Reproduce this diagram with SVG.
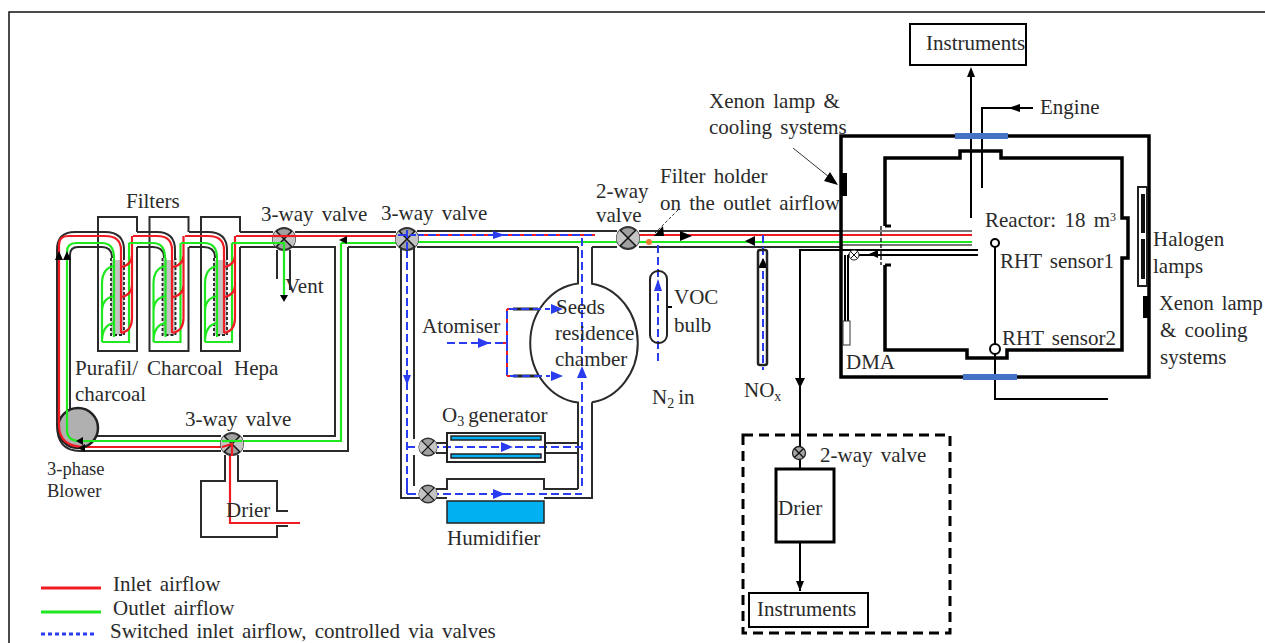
<svg xmlns="http://www.w3.org/2000/svg" xmlns:xlink="http://www.w3.org/1999/xlink" width="1265" height="643" viewBox="0 0 1265 643">
<style>
text{font-family:"Liberation Serif","Times New Roman",serif;font-size:21px;word-spacing:3px;fill:#2a2a2a}
.sm{font-size:18.5px}
.p{fill:none;stroke:#2b2b2b;stroke-width:2}
.t{fill:none;stroke:#000;stroke-width:3.5}
.m{fill:none;stroke:#000;stroke-width:2}
.r{fill:none;stroke:#f01c24;stroke-width:2.2}
.g{fill:none;stroke:#1fe81f;stroke-width:2.2}
.b{fill:none;stroke:#2a3cf0;stroke-width:2;stroke-dasharray:8 4}
.bk{fill:none;stroke:#222;stroke-width:1.8;stroke-dasharray:3 2}
.lb{fill:#4472c4}
.cy{fill:#00b0f0;stroke:#222;stroke-width:1.5}
.ah{fill:#000}
.ab{fill:#2a3cf0}
</style>
<defs>
<g id="valve"><circle r="11" fill="#a0a0a0" stroke="#333" stroke-width="2"/><path d="M-8,-8L0,0L-8,8A11,11 0 0 1 -8,-8ZM8,-8L0,0L8,8A11,11 0 0 0 8,-8Z" fill="#c4c4c4"/><path d="M-8,-8L8,8M8,-8L-8,8" stroke="#111" stroke-width="1.5"/></g>
<g id="filter">
<rect x="111" y="260" width="13" height="75" fill="#c4c4c4"/>
<path class="p" d="M137,232V217H98V351H137V247"/>
<path class="bk" d="M111,258V335H124V258"/>
<path class="g" d="M102,342H129V243M114,258V337M102,342V284Q102,268 114,266M102,312Q102,298 114,296M102,342Q102,325 114,323"/>
<path class="r" d="M132,236V318Q132,331 121,333M132,255Q132,265 121,267M132,285Q132,295 121,297"/>
</g>
</defs>
<rect width="1265" height="643" fill="#fff"/>
<path id="frame" d="M9,643V12H1265" fill="none" stroke="#111" stroke-width="1.5"/>
<g id="connectors">
<use xlink:href="#filter"/><use xlink:href="#filter" x="51.5"/><use xlink:href="#filter" x="103"/>
<path class="p" d="M57,425V250Q57,232 75,232H105Q124,232 124,250V260M137,232H157Q175,232 175,250V260M189,232H208Q227,232 227,250V260M240,232H273M295,232H396M70,415V255Q70,247 78,247H102Q112,247 112,258M137,247H153Q164,247 164,258M189,247H204Q215,247 215,258M240,247H335V436H243M348,247H396M348,247V451H243M221,436H97M221,451H80Q57,451 57,425"/>
<path class="r" d="M59,425V245Q59,236 68,236H105Q121,236 121,250V333M133,236H157Q172,236 172,250V333M185,236H208Q224,236 224,250V333M236,236H396"/>
<path class="g" d="M67,430V252Q67,243 76,243H102Q114,243 114,258M129,243H153Q165,243 165,258M181,243H204Q217,243 217,258M232,243H284V298M341,243V441H80Q67,441 67,430M341,243H396"/>
<path class="r" d="M59,425Q59,447 85,447H222M230,455V523H300"/>
<path class="p" d="M277,250V279M290,250V290M225,455V481H201V537H277V526H288M238,455V481H277V511H288"/>
<path class="p" d="M417,231H617M417,247H578M592,247H617M639,231H840M639,247H840M401,247V498H420M414,247V439M414,455V486M436,443H447M436,453H447M436,498H447M436,489H447V479H544V489H578M544,498H592V402.3M578,247V283.4A54,60 0 0 0 578,402.6V489M592,247V283.7A54,60 0 0 1 592,402.3M545,443H578M545,453H578"/>
<path class="r" d="M417,235H595M639,235H972"/>
<path class="g" d="M417,242H617M639,242H972"/>
<path class="p" style="stroke:#777" d="M840,231H972M840,245H972"/>
<path class="b" d="M416,235H595M407,250V490M582,238V490M407,447H585M407,494H582"/>
<path class="r" style="stroke-width:2;stroke-dasharray:none" d="M507,309V376M507,309H538M507,376H538M507,343H495"/>
<path d="M513,309H538M513,376H538" stroke="#222" stroke-width="3" fill="none"/>
<path class="b" d="M658,245V365M763,235V370M447,343H506M507,343V309H550M507,343V376H550"/>
<path d="M678,210L655,233" fill="none" stroke="#333" stroke-width="1" stroke-dasharray="3 2"/>
<path class="m" d="M667,307H672"/>
<path class="m" d="M971,218V70M982,188V108H1033M978,250H800V447M978,255H848M845,255V321M848,255V321M995,247V344M995,354V399H1108M800,459V469M800,542V591"/>
<path d="M793,148L834,181" fill="none" stroke="#333" stroke-width="1"/>
<path class="ah" d="M59,251L55,260H63ZM67,251L63,260H71Z"/>
<path class="ah" d="M284,302L280,295H288Z"/>
<path class="ah" d="M339,240L347,236V244Z"/>
<path class="ab" d="M505,235L493,231V239ZM407,385L403,375H411ZM513,447L501,442V452ZM505,494L493,489V499ZM582,366L577,378H587ZM658,279L654,291H662ZM490,343L478,338V348ZM563,309L551,304V314ZM563,376L551,371V381Z"/>
<path class="ah" d="M692,236L680,231V241ZM745,241L755,236V246ZM663,226L654,236H664ZM763,258L758,268H768ZM800,388L795,378H805ZM800,591L796,581H804ZM971,67L967,77H975ZM1008,108L1020,104V112ZM869,254L878,250V258ZM838,185L830,172L824,181Z"/>
</g>
<g id="valves">
<use xlink:href="#valve" x="284" y="239"/>
<use xlink:href="#valve" x="232" y="444"/>
<use xlink:href="#valve" x="407" y="239"/>
<use xlink:href="#valve" x="628" y="238"/>
<use xlink:href="#valve" transform="translate(428,447) scale(.8)"/>
<use xlink:href="#valve" transform="translate(428,494) scale(.8)"/>
<g transform="translate(854,255) scale(.5)"><circle r="10" fill="#fff" stroke="#222" stroke-width="2"/><path d="M-7,-7L7,7M7,-7L-7,7" stroke="#111" stroke-width="2"/></g>
<g transform="translate(799,453) scale(.65)"><circle r="10" fill="#a5a5a5" stroke="#222" stroke-width="2"/><path d="M-7,-7L7,7M7,-7L-7,7" stroke="#111" stroke-width="2"/></g>
<path class="r" d="M270,236H296"/>
<path class="g" d="M272,243H284V252"/>
<path class="r" d="M222,447L232,444V456"/>
<path class="g" d="M222,441H242"/>
<path class="b" d="M398,235H416M407,230V250M407,447H416M407,486V494H416"/>
</g>
<g id="blower">
<circle cx="78" cy="428" r="20" fill="#b0b0b0" stroke="#222" stroke-width="2.5"/>
<path class="r" d="M59,410V425Q59,447 85,447"/>
<path class="g" d="M67,410V430Q67,441 80,441H97"/>
<path class="ah" d="M76,441L83,437V445ZM78,448L85,444V452Z"/>
</g>
<g id="filter-holder"><circle cx="649" cy="242" r="3" fill="#ed7d31"/></g>
<g id="voc-bulb"><rect x="650" y="271" width="17" height="72" rx="8" fill="none" stroke="#222" stroke-width="2"/></g>
<g id="nox-tube"><rect x="758" y="250" width="9" height="115" rx="2" fill="none" stroke="#222" stroke-width="2.5"/></g>
<g id="o3-generator">
<rect x="447" y="433" width="98" height="29" fill="none" stroke="#222" stroke-width="2"/>
<rect class="cy" x="451" y="436" width="90" height="4"/>
<rect class="cy" x="451" y="454" width="90" height="4"/>
</g>
<g id="humidifier"><rect class="cy" x="447" y="501" width="97" height="22"/></g>
<g id="chamber">
<path class="t" d="M841,377V136H1149V377Z"/>
<rect class="lb" x="955" y="133" width="53" height="6"/>
<rect class="lb" x="963" y="374" width="54" height="6"/>
<rect x="842" y="173" width="5" height="23" fill="#000"/>
<rect x="1138" y="187" width="9" height="99" fill="#fff" stroke="#222" stroke-width="2"/>
<rect x="1141" y="194" width="4" height="39" fill="#111"/>
<rect x="1141" y="239" width="4" height="40" fill="#111"/>
<rect x="1143" y="296" width="5" height="22" fill="#000"/>
</g>
<g id="reactor">
<path class="t" d="M885,226V158H960V151H1001V158H1122V218H1128V258H1122V350H1007V358H967V350H885V265"/>
<path d="M885,226H891M885,265H891" stroke="#000" stroke-width="3"/>
<path d="M881,226V265" stroke="#222" stroke-width="1.5" stroke-dasharray="4 2"/>
<circle cx="995" cy="243" r="4" fill="#fff" stroke="#000" stroke-width="2"/>
<circle cx="995" cy="349" r="5" fill="#fff" stroke="#000" stroke-width="2"/>
</g>
<g id="dma"><rect x="843" y="321" width="7" height="24" fill="#fff" stroke="#333" stroke-width="1"/></g>
<g id="instruments-top"><rect x="910" y="24" width="116" height="41" fill="#fff" stroke="#000" stroke-width="2"/></g>
<g id="sampling"><rect x="743" y="435" width="207" height="198" fill="none" stroke="#000" stroke-width="3" stroke-dasharray="10 6"/></g>
<g id="drier-2"><rect x="776" y="469" width="58" height="73" fill="#fff" stroke="#000" stroke-width="3"/></g>
<g id="instruments-bottom"><rect x="749" y="593" width="119" height="34" fill="#fff" stroke="#000" stroke-width="2"/></g>
<g id="legend">
<path d="M41,588H101" stroke="#f01c24" stroke-width="3"/>
<path d="M41,612H101" stroke="#1fe81f" stroke-width="3"/>
<path d="M41,634H97" stroke="#2a3cf0" stroke-width="3" stroke-dasharray="4 3"/>
</g>
<g id="labels" transform="translate(0,1)">
<text x="926" y="49">Instruments</text>
<text x="1040" y="113">Engine</text>
<text x="709" y="107">Xenon lamp &amp;</text>
<text x="709" y="133">cooling systems</text>
<text x="660" y="182">Filter holder</text>
<text x="660" y="209">on the outlet airflow</text>
<text x="596" y="197">2-way</text>
<text x="596" y="221">valve</text>
<text x="261" y="220">3-way valve</text>
<text x="381" y="219">3-way valve</text>
<text x="126" y="207">Filters</text>
<text x="285" y="292">Vent</text>
<text x="75" y="374">Purafil/</text>
<text x="147" y="374">Charcoal</text>
<text x="234" y="374">Hepa</text>
<text x="75" y="400">charcoal</text>
<text class="sm" x="47" y="474">3-phase</text>
<text class="sm" x="47" y="496">Blower</text>
<text x="185" y="425">3-way valve</text>
<text x="226" y="516">Drier</text>
<text x="422" y="332">Atomiser</text>
<text x="556" y="313">Seeds</text>
<text x="555" y="339">residence</text>
<text x="555" y="365">chamber</text>
<text x="442" y="421">O<tspan font-size="14" dy="4">3</tspan><tspan dy="-4" dx="4">generator</tspan></text>
<text x="447" y="544">Humidifier</text>
<text x="674" y="303">VOC</text>
<text x="674" y="331">bulb</text>
<text x="652" y="403">N<tspan font-size="14" dy="4">2</tspan><tspan dy="-4" dx="4">in</tspan></text>
<text x="744" y="396">NO<tspan font-size="14" dy="4">x</tspan></text>
<text x="846" y="368">DMA</text>
<text x="985" y="226">Reactor: 18 m<tspan font-size="12" dy="-6">3</tspan></text>
<text x="1000" y="267">RHT sensor1</text>
<text x="1002" y="344">RHT sensor2</text>
<text x="1153" y="245">Halogen</text>
<text x="1153" y="272">lamps</text>
<text x="1159" y="309" style="font-size:20.5px">Xenon lamp</text>
<text x="1160" y="336">&amp; cooling</text>
<text x="1160" y="363">systems</text>
<text x="820" y="461">2-way valve</text>
<text x="778" y="514">Drier</text>
<text x="757" y="615">Instruments</text>
<text x="113" y="590">Inlet airflow</text>
<text x="113" y="614">Outlet airflow</text>
<text x="110" y="637">Switched inlet airflow, controlled via valves</text>
</g>
</svg>
